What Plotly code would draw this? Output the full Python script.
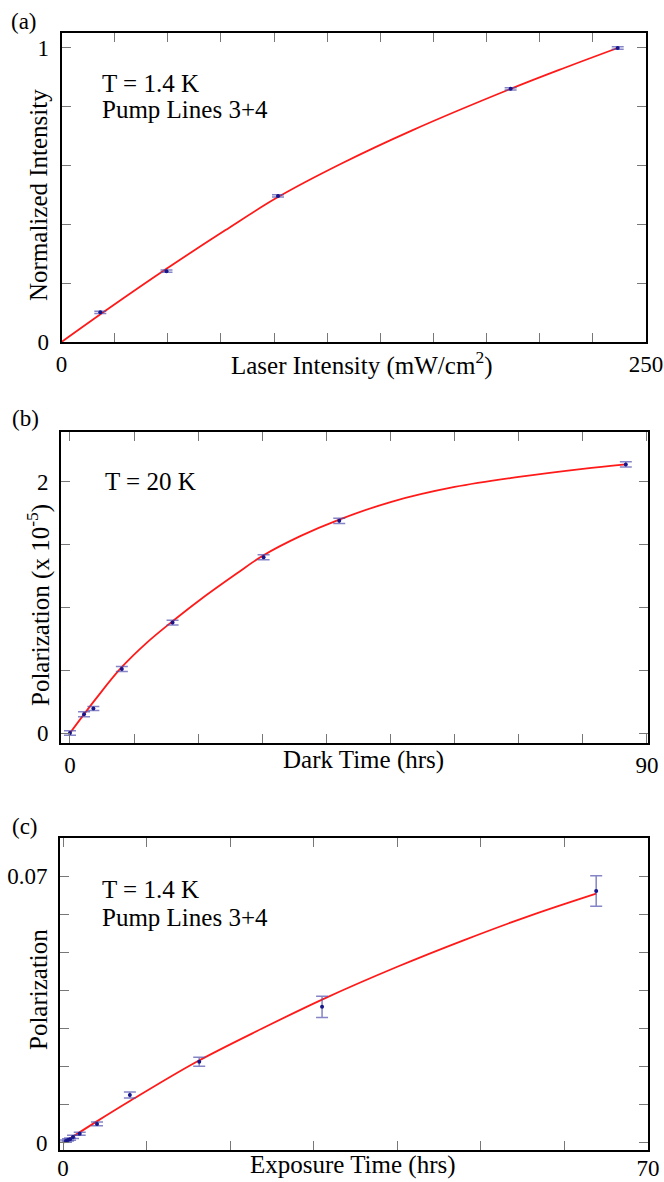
import plotly.graph_objects as go

# ---------------- data ----------------
# (a) Normalized intensity vs laser intensity
a_x = [16.6, 44.9, 92.6, 192.1, 237.9]
a_y = [0.101, 0.241, 0.497, 0.861, 1.0]
a_err = [0.004, 0.004, 0.004, 0.004, 0.004]
a_fit_x = [0, 20, 44.9, 70, 92.6, 120, 150, 192.1, 215, 237.9]
a_fit_y = [0, 0.113, 0.249, 0.380, 0.493, 0.608, 0.720, 0.861, 0.932, 1.0]
a_xlabels = [0, 250]
a_ylabels = [0, 1]

# (b) Polarization (x1e-5) vs dark time
b_x = [0, 2.19, 3.65, 8.09, 16.0, 30.2, 42.0, 86.7]
b_y = [0, 0.15, 0.195, 0.51, 0.88, 1.40, 1.69, 2.14]
b_err = [0.017, 0.02, 0.016, 0.02, 0.019, 0.02, 0.02, 0.02]
b_fit_x = [0, 4, 8, 12, 16, 20, 26, 30, 36, 42, 50, 60, 70, 80, 86.7]
b_fit_y = [0, 0.27, 0.52, 0.72, 0.89, 1.05, 1.27, 1.41, 1.57, 1.70, 1.84, 1.96, 2.04, 2.105, 2.14]
b_xlabels = [0, 90]
b_ylabels = [0, 2]

# (c) Polarization vs exposure time
c_x = [0.36, 0.6, 0.84, 1.2, 2.0, 4.07, 8.0, 16.3, 31.0, 63.8]
c_y = [0.0005, 0.0008, 0.001, 0.0016, 0.0024, 0.0050, 0.0126, 0.0213, 0.0357, 0.0661]
c_err = [0.0003, 0.0003, 0.0003, 0.0004, 0.0004, 0.0005, 0.0008, 0.0012, 0.0028, 0.004]
c_fit_x = [0, 4, 8, 16, 24, 31, 40, 48, 56, 63.8]
c_fit_y = [0, 0.0056, 0.011, 0.0213, 0.0302, 0.0376, 0.0462, 0.0532, 0.0597, 0.0654]
c_xlabels = [0, 70]
c_ylabels = [0, 0.07]

# ---------------- styling ----------------
W, H = 664, 1182
FONT = "Liberation Serif, Times New Roman, Times, serif"
DOT = "#16168a"
ERR = "rgba(80,80,175,0.7)"
FIT = "#ff1a1a"


def px(x):
    return x / W


def py(y):
    return 1 - y / H


fig = go.Figure()

panels = [
    (a_x, a_y, a_err, a_fit_x, a_fit_y, "x", "y"),
    (b_x, b_y, b_err, b_fit_x, b_fit_y, "x2", "y2"),
    (c_x, c_y, c_err, c_fit_x, c_fit_y, "x3", "y3"),
]
for xs, ys, es, fx, fy, xa, ya in panels:
    fig.add_trace(go.Scatter(x=fx, y=fy, mode="lines", line=dict(color=FIT, width=1.8, shape="spline"),
                             xaxis=xa, yaxis=ya, showlegend=False, hoverinfo="skip"))
    fig.add_trace(go.Scatter(x=xs, y=ys, mode="markers", marker=dict(color=DOT, size=4),
                             error_y=dict(type="data", array=es, color=ERR, thickness=1.5, width=6),
                             xaxis=xa, yaxis=ya, showlegend=False))


def axis(domain, rng, labels, dtick, anchor, standoff, fmt=None):
    d = dict(domain=domain, range=rng, anchor=anchor, automargin=False,
             tickmode="array", tickvals=labels, ticktext=[fmt(v) if fmt else str(v) for v in labels],
             showline=True, linecolor="black", linewidth=2, mirror="ticks",
             ticks="inside", ticklen=9, tickcolor="#777777", tickwidth=1.2,
             minor=dict(tickmode="linear", tick0=0, dtick=dtick, ticks="inside", ticklen=9,
                        tickcolor="#777777", tickwidth=1.2, showgrid=False),
             showgrid=False, zeroline=False, ticklabelstandoff=standoff,
             tickfont=dict(family=FONT, size=23, color="black"))
    return d


fig.update_layout(
    template="none",
    width=W, height=H, margin=dict(l=0, r=0, t=0, b=0, pad=0),
    paper_bgcolor="white", plot_bgcolor="white", showlegend=False,
    xaxis=axis([px(61.5), px(646)], [0, 250], a_xlabels, 250 / 11, "y", 0),
    yaxis=axis([py(342), py(33)], [0, 1.051], a_ylabels, 0.2, "x", 6),
    xaxis2=axis([px(61), px(648)], [-1.40, 90.16], b_xlabels, 10, "y2", 0),
    yaxis2=axis([py(743), py(432)], [-0.0797, 2.398], b_ylabels, 0.5, "x2", 6),
    xaxis3=axis([px(60), px(648)], [-0.359, 70.0], c_xlabels, 10, "y3", -4),
    yaxis3=axis([py(1150), py(838)], [-0.00184, 0.07997], c_ylabels, 0.01, "x3", 6,
                fmt=lambda v: "0" if v == 0 else "0.07"),
)

ann = []


def text(x, y, s, size=25, xanchor="left", angle=0):
    ann.append(dict(x=px(x), y=py(y), xref="paper", yref="paper", text=s, showarrow=False,
                    xanchor=xanchor, yanchor="middle", textangle=angle, borderpad=0,
                    font=dict(family=FONT, size=size, color="black")))


# panel labels
text(10, 22, "(a)", 23)
text(11, 418, "(b)", 23)
text(11, 826, "(c)", 23)
# in-plot notes
text(101, 83, "T = 1.4 K")
text(101, 109, "Pump Lines 3+4")
text(104, 481, "T = 20 K")
text(101, 889, "T = 1.4 K")
text(101, 917, "Pump Lines 3+4")
# axis titles
text(361, 364, "Laser Intensity (mW/cm<sup>2</sup>)", 25, "center")
text(363, 760, "Dark Time (hrs)", 25, "center")
text(353, 1165, "Exposure Time (hrs)", 25, "center")
text(38, 195, "Normalized Intensity", 25, "center", -90)
text(38, 605, "Polarization (x 10<sup>-5</sup>)", 25, "center", -90)
text(38, 990, "Polarization", 25, "center", -90)

fig.update_layout(annotations=ann)
fig.write_html("out.html", config={"displayModeBar": False},
               post_script="document.body.style.margin='0';")
